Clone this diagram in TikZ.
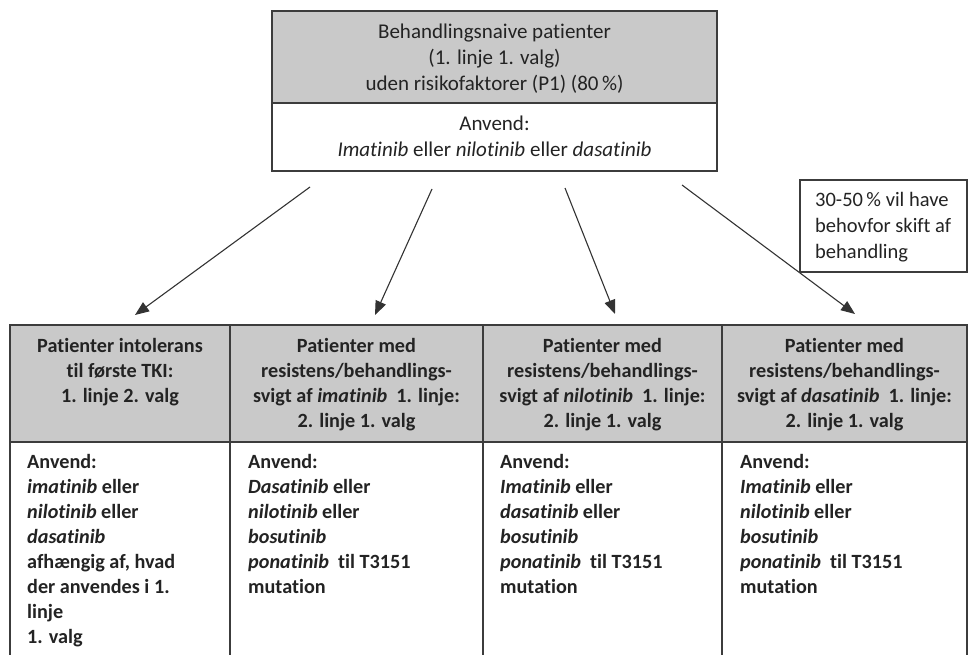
\documentclass[tikz,border=0pt]{standalone}
\usepackage{fontspec}
\setmainfont{Carlito}[Ligatures=NoCommon]
\usetikzlibrary{arrows.meta}
\definecolor{hdrgray}{RGB}{201,201,201}
\definecolor{linec}{RGB}{60,60,60}
\definecolor{txt}{RGB}{35,35,35}
\newcommand\mylinesL[1]{\begin{tabular}[t]{@{}l@{}}#1\end{tabular}}
\newcommand\mylinesC[1]{\begin{tabular}[t]{@{}c@{}}#1\end{tabular}}
\begin{document}
\begin{tikzpicture}[x=1pt,y=-1pt,
  boxbase/.style={draw=linec, line width=1.3pt, anchor=north west, inner sep=0pt, outer sep=0pt},
  hdrbox/.style={boxbase, fill=hdrgray},
  bodybox/.style={boxbase, fill=white},
  toptext/.style={anchor=base, inner sep=0pt, text=txt, font=\fontsize{21}{26}\selectfont},
  headtext/.style={anchor=base, inner sep=0pt, text=txt, font=\fontsize{20.2}{25}\selectfont\bfseries},
  bodytext/.style={anchor=base west, inner sep=0pt, text=txt, font=\fontsize{20.2}{25}\selectfont\bfseries},
  notetext/.style={anchor=base west, inner sep=0pt, text=txt, font=\fontsize{20.5}{26}\selectfont},
  arr/.style={draw=black!80, line width=1.1pt, -{Triangle[length=14pt,width=11pt]}}
]
\useasboundingbox (0,0) rectangle (969,655);

% top box
\node[hdrbox, minimum width=445pt, minimum height=92pt] (topH) at (272,11) {};
\node[bodybox, minimum width=445pt, minimum height=68pt] (topB) at (272,103) {};
\node[toptext] (topHt) at (494.5,39) {\mylinesC{Behandlingsnaive patienter\\(1. linje 1. valg)\\uden risikofaktorer (P1) (80\,\%)}};
\node[toptext] (topBt) at (494.5,131) {\mylinesC{Anvend:\\\textit{Imatinib} eller \textit{nilotinib} eller \textit{dasatinib}}};

% arrows
\coordinate (s1) at (310,187); \coordinate (e1) at (135,315);
\coordinate (s2) at (432,189); \coordinate (e2) at (375,315);
\coordinate (s3) at (565,188); \coordinate (e3) at (615,314);
\coordinate (s4) at (682,185); \coordinate (e4) at (855,314);
\draw[arr] (s1) -- (e1);
\draw[arr] (s2) -- (e2);
\draw[arr] (s3) -- (e3);
\draw[arr] (s4) -- (e4);

% note box
\node[bodybox, minimum width=167pt, minimum height=92pt] (note) at (800,180) {};
\node[notetext] (notet) at (815,207) {\mylinesL{30-50\,\% vil have\\behovfor skift af\\behandling}};

% bottom header cells
\node[hdrbox, minimum width=220pt, minimum height=117pt] (h1) at (10,325) {};
\node[hdrbox, minimum width=253pt, minimum height=117pt] (h2) at (230,325) {};
\node[hdrbox, minimum width=239pt, minimum height=117pt] (h3) at (483,325) {};
\node[hdrbox, minimum width=245pt, minimum height=117pt] (h4) at (722,325) {};
% bottom body cells
\node[bodybox, minimum width=220pt, minimum height=225pt] (b1) at (10,442) {};
\node[bodybox, minimum width=253pt, minimum height=225pt] (b2) at (230,442) {};
\node[bodybox, minimum width=239pt, minimum height=225pt] (b3) at (483,442) {};
\node[bodybox, minimum width=245pt, minimum height=225pt] (b4) at (722,442) {};

% header texts
\node[headtext] (h1t) at (120,352) {\mylinesC{Patienter intolerans\\til første TKI:\\1. linje 2. valg}};
\node[headtext] (h2t) at (356.5,352) {\mylinesC{Patienter med\\resistens/behandlings-\\svigt af \textit{imatinib}\ \ 1. linje:\\2. linje 1. valg}};
\node[headtext] (h3t) at (602.5,352) {\mylinesC{Patienter med\\resistens/behandlings-\\svigt af \textit{nilotinib}\ \ 1. linje:\\2. linje 1. valg}};
\node[headtext] (h4t) at (844.5,352) {\mylinesC{Patienter med\\resistens/behandlings-\\svigt af \textit{dasatinib}\ \ 1. linje:\\2. linje 1. valg}};

% body texts
\node[bodytext] (b1t) at (27,468) {\mylinesL{Anvend:\\\textit{imatinib} eller\\\textit{nilotinib} eller\\\textit{dasatinib}\\afhængig af, hvad\\der anvendes i 1.\\linje\\1. valg}};
\node[bodytext] (b2t) at (248,468) {\mylinesL{Anvend:\\\textit{Dasatinib} eller\\\textit{nilotinib} eller\\\textit{bosutinib}\\\textit{ponatinib}\ \ til T3151\\mutation}};
\node[bodytext] (b3t) at (500,468) {\mylinesL{Anvend:\\\textit{Imatinib} eller\\\textit{dasatinib} eller\\\textit{bosutinib}\\\textit{ponatinib}\ \ til T3151\\mutation}};
\node[bodytext] (b4t) at (740,468) {\mylinesL{Anvend:\\\textit{Imatinib} eller\\\textit{nilotinib} eller\\\textit{bosutinib}\\\textit{ponatinib}\ \ til T3151\\mutation}};
\end{tikzpicture}
\end{document}
